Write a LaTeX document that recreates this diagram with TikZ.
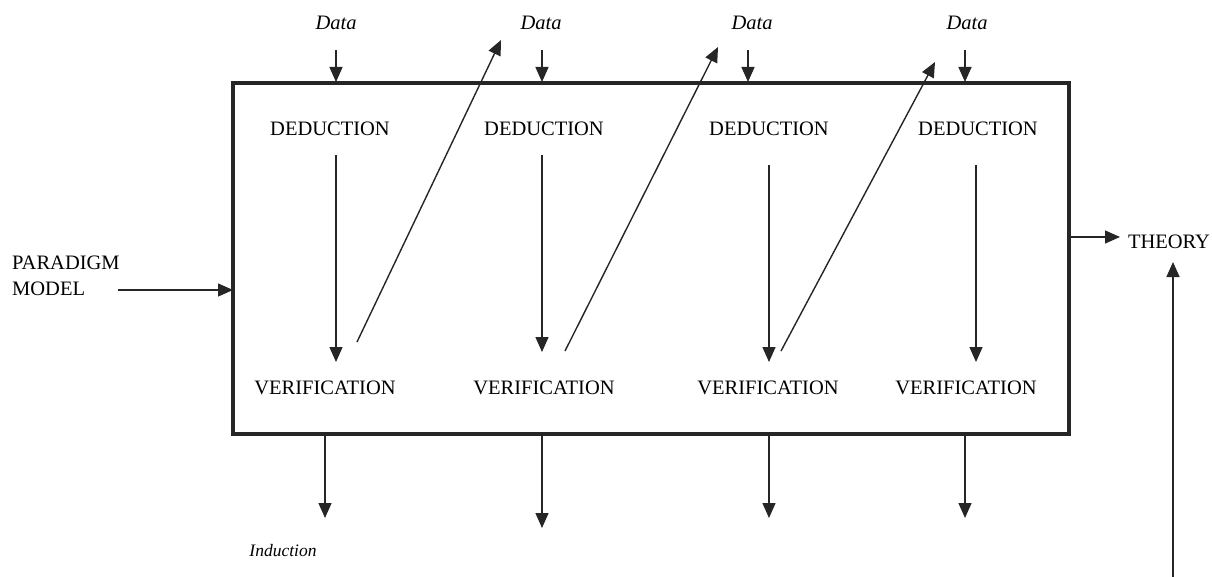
\documentclass[tikz,border=0pt]{standalone}
\usepackage{fontspec}
\setmainfont{Liberation Serif}
\usetikzlibrary{arrows.meta}
\begin{document}
\begin{tikzpicture}[x=1pt,y=-1pt,
  lbl/.style={inner sep=0pt,font=\fontsize{20.5}{22}\selectfont},
  datalbl/.style={inner sep=0pt,font=\fontsize{20.5}{22}\selectfont\itshape},
  arr/.style={line width=1.4pt,draw=black!85,-{Triangle[length=15pt,width=13pt]}},
  frame/.style={draw=black!85,line width=3.2pt}]
\useasboundingbox (0,0) rectangle (1212,577);

% main process box
\coordinate (boxnw) at (233,83);
\coordinate (boxse) at (1069,434);
\draw[frame] (boxnw) rectangle (boxse);
\node[inner sep=0pt,minimum width=836pt,minimum height=351pt,anchor=north west] (box) at (boxnw) {};

% data inputs along the top edge
\foreach \i/\lx/\ax in {1/336/336,2/541/542,3/752/748,4/967/965}{
  \node[datalbl] (data\i) at (\lx,23) {Data};
  \coordinate (din\i) at (\ax,50);
  \coordinate (dtop\i) at (\ax,82);
  \draw[arr] (din\i) -- (dtop\i);
}

% deduction and verification stages
\foreach \i/\dx/\vx in {1/330/325,2/544/544,3/769/768,4/978/966}{
  \node[lbl] (ded\i) at (\dx,129) {DEDUCTION};
  \node[lbl] (ver\i) at (\vx,388) {VERIFICATION};
}

% deduction -> verification
\foreach \i/\x/\ya/\yb in {1/336/155/362,2/542/155/352,3/769/165/362,4/976/165/362}{
  \coordinate (ds\i) at (\x,\ya);
  \coordinate (vs\i) at (\x,\yb);
  \draw[arr] (ds\i) -- (vs\i);
}

% verification feeding the next round
\foreach \i/\xa/\ya/\xb/\yb in {1/357/342/501/40,2/565/351/718/47,3/781/351/935/62}{
  \coordinate (fa\i) at (\xa,\ya);
  \coordinate (fb\i) at (\xb,\yb);
  \draw[arr] (fa\i) -- (fb\i);
}

% outputs along the bottom edge
\foreach \i/\x/\y in {1/325/518,2/542/528,3/769/518,4/965/518}{
  \coordinate (bo\i) at (\x,434);
  \coordinate (be\i) at (\x,\y);
  \draw[arr] (bo\i) -- (be\i);
}
\node[inner sep=0pt,font=\fontsize{17.5}{19}\selectfont\itshape] (ind) at (283,551) {Induction};

% paradigm input
\node[lbl,align=left,anchor=west,font=\fontsize{20.5}{26}\selectfont] (par) at (12,276) {PARADIGM\\MODEL};
\coordinate (pin) at (118,290);
\draw[arr] (pin) -- (box.west |- pin);

% theory output
\node[lbl] (th) at (1169,242) {THEORY};
\coordinate (tout) at (1069,237);
\coordinate (tend) at (1120,237);
\draw[arr] (tout) -- (tend);
\coordinate (tin) at (1173,577);
\coordinate (tup) at (1173,262);
\draw[arr] (tin) -- (tup);
\end{tikzpicture}
\end{document}
